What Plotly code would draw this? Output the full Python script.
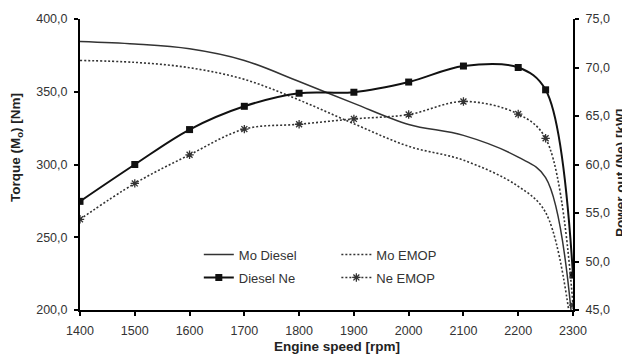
import plotly.graph_objects as go

rpm = [1400, 1500, 1600, 1700, 1800, 1900, 2000, 2100, 2200, 2250, 2300]
mo_diesel = [384.5, 382.8, 379.5, 371.5, 357.0, 342.0, 327.5, 320.0, 305.0, 291.0, 185.0]
mo_emop = [371.5, 370.2, 366.5, 358.5, 344.3, 328.0, 312.5, 303.0, 285.0, 267.0, 178.0]
ne_diesel = [56.2, 60.0, 63.6, 66.0, 67.35, 67.45, 68.5, 70.15, 70.0, 67.7, 48.6]
ne_emop = [54.35, 58.05, 61.0, 63.65, 64.15, 64.7, 65.15, 66.5, 65.2, 62.7, 45.5]

x_ticks = [1400, 1500, 1600, 1700, 1800, 1900, 2000, 2100, 2200, 2300]

x_title = "Engine speed [rpm]"
y_title = "Torque (M<sub>o</sub>) [Nm]"
y2_title = "Power out (Ne) [kW]"

FONT = "Liberation Sans, Arial, sans-serif"
TICK_FONT = dict(family=FONT, size=12.5, color="#333333")
TITLE_FONT = dict(family=FONT, size=13.5, color="#222222")

fig = go.Figure()
fig.add_trace(go.Scatter(x=rpm, y=mo_diesel, name="Mo Diesel", mode="lines",
                         line=dict(color="#333333", width=1.5, shape="spline"),
                         legend="legend", legendgroup="a"))
fig.add_trace(go.Scatter(x=rpm, y=ne_diesel, name="Diesel Ne", mode="lines+markers",
                         yaxis="y2",
                         line=dict(color="#111111", width=2, shape="spline"),
                         marker=dict(symbol="square", size=7, color="#111111"),
                         legend="legend", legendgroup="b"))
fig.add_trace(go.Scatter(x=rpm, y=mo_emop, name="Mo EMOP", mode="lines",
                         line=dict(color="#333333", width=1.6, shape="spline", dash="2px,2px"),
                         legend="legend2", legendgroup="c"))
fig.add_trace(go.Scatter(x=rpm, y=ne_emop, name="Ne EMOP", mode="lines+markers",
                         yaxis="y2",
                         line=dict(color="#333333", width=1.6, shape="spline", dash="2px,2px"),
                         marker=dict(symbol="asterisk-open", size=7,
                                     line=dict(color="#222222", width=1.3)),
                         legend="legend2", legendgroup="d"))

axis_common = dict(showline=True, linecolor="black", linewidth=2, ticks="outside",
                   ticklen=4, tickwidth=1.5, tickcolor="black", showgrid=False,
                   zeroline=False, tickfont=TICK_FONT, ticklabelstandoff=4)

# page body has an 8px margin; the figure is sized so that it fills the rest of the window
OFF = 8
W, H = 630 - OFF, 354 - OFF
X0, X1, Y0, Y1 = 80, 573, 19, 310  # plot area in window pixels
L, R, T, B = X0 - OFF, 630 - X1, Y0 - OFF, 354 - Y1
PW, PH = X1 - X0, Y1 - Y0


def px(xp):
    return (xp - X0) / PW


def py(yp):
    return (Y1 - yp) / PH


legend_font = dict(family=FONT, size=13, color="#333333")

fig.update_layout(
    width=W, height=H,
    margin=dict(l=L, r=R, t=T, b=B, autoexpand=False),
    paper_bgcolor="white", plot_bgcolor="white",
    separators=",.",
    font=dict(family=FONT, color="#222222"),
    xaxis=dict(range=[1400, 2300], tickvals=x_ticks, tickformat="d", **axis_common),
    yaxis=dict(range=[200, 400], dtick=50, tickformat=".1f", **axis_common),
    yaxis2=dict(range=[45, 75], dtick=5, tickformat=".1f", overlaying="y", side="right",
                **axis_common),
    legend=dict(x=0.241, y=0.242, xanchor="left", yanchor="top", bgcolor="rgba(0,0,0,0)",
                font=legend_font, itemwidth=30, traceorder="grouped", tracegroupgap=3),
    legend2=dict(x=0.52, y=0.242, xanchor="left", yanchor="top", bgcolor="rgba(0,0,0,0)",
                 font=legend_font, itemwidth=30, traceorder="grouped", tracegroupgap=3),
    annotations=[
        dict(text="<b>" + x_title + "</b>", xref="paper", yref="paper", x=px(337), y=py(346),
             xanchor="center", yanchor="middle", showarrow=False, font=TITLE_FONT),
        dict(text="<b>" + y_title + "</b>", xref="paper", yref="paper", x=px(16), y=py(148),
             xanchor="center", yanchor="middle", showarrow=False, font=TITLE_FONT, textangle=-90),
        dict(text="<b>" + y2_title + "</b>", xref="paper", yref="paper", x=px(620), y=py(173),
             xanchor="center", yanchor="middle", showarrow=False, font=TITLE_FONT, textangle=-90),
    ],
)

fig.write_html("out.html")
